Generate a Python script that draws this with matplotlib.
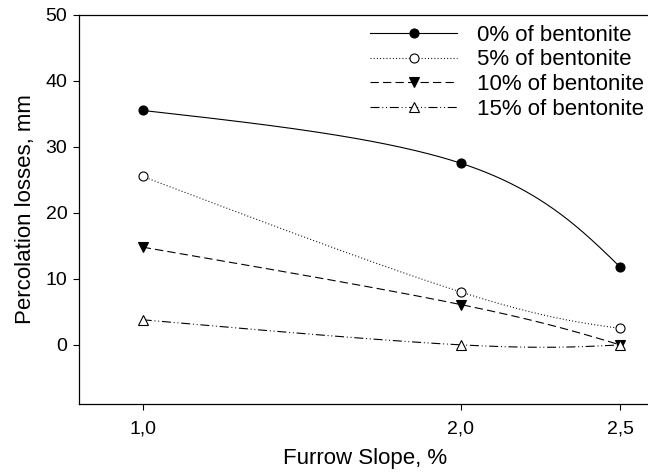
import numpy as np
import matplotlib.pyplot as plt
from matplotlib.lines import Line2D

# --- datos ---
slope = [1.0, 2.0, 2.5]
bent_0 = [35.5, 27.5, 11.8]
bent_5 = [25.5, 8.0, 2.5]
bent_10 = [14.8, 6.1, 0.0]
bent_15 = [3.8, 0.0, 0.0]
series_labels = ["0% of bentonite", "5% of bentonite",
                 "10% of bentonite", "15% of bentonite"]
tick_labels = ["1,0", "2,0", "2,5"]


def natural_1d(t, v, ts):
    """Spline cubico natural v(t) evaluado en ts."""
    t = np.asarray(t, float)
    v = np.asarray(v, float)
    k = len(t)
    h = np.diff(t)
    A = np.zeros((k, k))
    b = np.zeros(k)
    A[0, 0] = A[-1, -1] = 1
    for i in range(1, k - 1):
        A[i, i - 1] = h[i - 1]
        A[i, i] = 2 * (h[i - 1] + h[i])
        A[i, i + 1] = h[i]
        b[i] = 6 * ((v[i + 1] - v[i]) / h[i] - (v[i] - v[i - 1]) / h[i - 1])
    M = np.linalg.solve(A, b)
    j = np.clip(np.searchsorted(t, ts) - 1, 0, k - 2)
    t0 = t[j + 1] - ts
    t1 = ts - t[j]
    hj = h[j]
    return (M[j] * t0**3 + M[j + 1] * t1**3) / (6 * hj) \
        + (v[j] / hj - M[j] * hj / 6) * t0 + (v[j + 1] / hj - M[j + 1] * hj / 6) * t1


def smooth_curve(x, y, n=200):
    # curva parametrica (parametro = indice del punto), como la de SigmaPlot
    t = np.arange(len(x), dtype=float)
    ts = np.linspace(0, len(x) - 1, n)
    return natural_1d(t, x, ts), natural_1d(t, y, ts)


plt.rcParams['font.family'] = ['Liberation Sans', 'DejaVu Sans']
plt.rcParams['lines.scale_dashes'] = False

fig = plt.figure(figsize=(6.48, 4.72), dpi=100)
ax = fig.add_axes([0.122, 0.1434, 0.884, 0.8255])

styles = [
    dict(ls='-', marker='o', mfc='black'),
    dict(ls=(0, (0.7, 1.6)), marker='o', mfc='white'),
    dict(ls=(0, (6.0, 3.0)), marker='v', mfc='black'),
    dict(ls=(0, (6.5, 2.0, 0.7, 2.0, 0.7, 2.0)), marker='^', mfc='white'),
]
data = [bent_0, bent_5, bent_10, bent_15]

handles = []
for vals, st, lab in zip(data, styles, series_labels):
    xs, ys = smooth_curve(slope, vals)
    ax.plot(xs, ys, color='black', lw=0.8, ls=st['ls'])
    ax.plot(slope, vals, ls='none', marker=st['marker'], ms=6.5,
            mfc=st['mfc'], mec='black', mew=0.8, clip_on=False, zorder=3)
    handles.append(Line2D([], [], color='black', lw=0.8, ls=st['ls'],
                          marker=st['marker'], ms=6.5, mfc=st['mfc'],
                          mec='black', mew=0.8))

ax.set_xlim(0.8, 2.6)
ax.set_ylim(-9, 50)
ax.set_xticks(slope)
ax.set_xticklabels(tick_labels)
ax.set_yticks([0, 10, 20, 30, 40, 50])
ax.tick_params(labelsize=14, length=4.5, width=0.8, direction='out', pad=4)
ax.tick_params(axis='x', pad=7)
ax.spines['right'].set_visible(False)
for s in ['left', 'bottom', 'top']:
    ax.spines[s].set_linewidth(0.9)

ax.set_xlabel("Furrow Slope, %", fontsize=16, labelpad=8)
ax.set_ylabel("Percolation losses, mm", fontsize=16, labelpad=7)

leg = ax.legend(handles, series_labels, loc='upper left',
                bbox_to_anchor=(0.5005, 0.986), frameon=False, fontsize=16,
                numpoints=1, handlelength=3.9, handletextpad=0.9,
                labelspacing=0.17, borderaxespad=0, borderpad=0.2)

fig.savefig("out.png", dpi=100)
